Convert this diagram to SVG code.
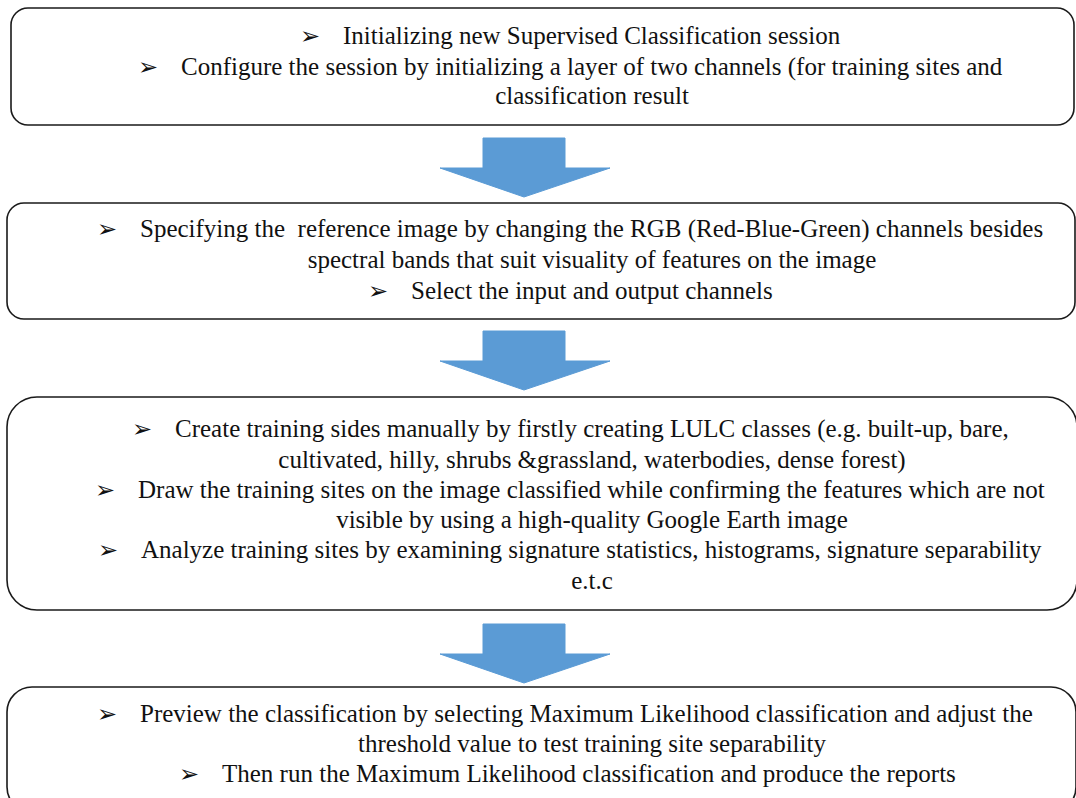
<svg xmlns="http://www.w3.org/2000/svg" width="1076" height="798" viewBox="0 0 1076 798">
<style>
.box{fill:#ffffff;stroke:#1a1a1a;stroke-width:1.6}
.t{font-family:'Liberation Serif','Times New Roman','DejaVu Serif',serif;font-size:25px;fill:#111111}
.c{text-anchor:middle}
.b{font-family:'DejaVu Sans',sans-serif;font-size:24px;fill:#111111}
.arr{fill:#5B9BD5;stroke:#5B9BD5;stroke-width:1}
</style>
<rect x="0" y="0" width="1076" height="798" fill="#ffffff"/>
<g id="connectors">
<path class="arr" d="M483,138 H565 V168 H610 L524,197 L440,168 H483 Z"/>
<path class="arr" d="M483,331 H565 V361 H610 L524,390 L440,361 H483 Z"/>
<path class="arr" d="M483,624 H565 V654 H610 L524,683 L440,654 H483 Z"/>
</g>
<g id="node1">
<rect class="box" x="11" y="8" width="1063" height="117" rx="17" ry="17"/>
<text class="b" x="300" y="44">➢</text>
<text class="t" x="343" y="44" font-family="Liberation Serif, serif">Initializing new Supervised Classification session</text>
<text class="b" x="138" y="75">➢</text>
<text class="t" x="181" y="75" font-family="Liberation Serif, serif">Configure the session by initializing a layer of two channels (for training sites and</text>
<text class="t c" x="592" y="104" font-family="Liberation Serif, serif">classification result</text>
</g>
<g id="node2">
<rect class="box" x="7" y="203" width="1068" height="116" rx="17" ry="17"/>
<text class="b" x="97" y="237">➢</text>
<text class="t" x="140" y="237" xml:space="preserve" font-family="Liberation Serif, serif">Specifying the  reference image by changing the RGB (Red-Blue-Green) channels besides</text>
<text class="t c" x="592" y="268" font-family="Liberation Serif, serif">spectral bands that suit visuality of features on the image</text>
<text class="b" x="368" y="299">➢</text>
<text class="t" x="411" y="299" font-family="Liberation Serif, serif">Select the input and output channels</text>
</g>
<g id="node3">
<rect class="box" x="7" y="397" width="1070" height="213" rx="30" ry="30"/>
<text class="b" x="132" y="437">➢</text>
<text class="t" x="175" y="437" font-family="Liberation Serif, serif">Create training sides manually by firstly creating LULC classes (e.g. built-up, bare,</text>
<text class="t c" x="592" y="468" font-family="Liberation Serif, serif">cultivated, hilly, shrubs &amp;grassland, waterbodies, dense forest)</text>
<text class="b" x="95" y="498">➢</text>
<text class="t" x="138" y="498" font-family="Liberation Serif, serif">Draw the training sites on the image classified while confirming the features which are not</text>
<text class="t c" x="592" y="528" font-family="Liberation Serif, serif">visible by using a high-quality Google Earth image</text>
<text class="b" x="98" y="558">➢</text>
<text class="t" x="141" y="558" font-family="Liberation Serif, serif">Analyze training sites by examining signature statistics, histograms, signature separability</text>
<text class="t c" x="592" y="589" font-family="Liberation Serif, serif">e.t.c</text>
</g>
<g id="node4">
<rect class="box" x="7" y="687" width="1069" height="125" rx="25" ry="25"/>
<text class="b" x="97" y="722">➢</text>
<text class="t" x="140" y="722" font-family="Liberation Serif, serif">Preview the classification by selecting Maximum Likelihood classification and adjust the</text>
<text class="t c" x="592" y="752" font-family="Liberation Serif, serif">threshold value to test training site separability</text>
<text class="b" x="179" y="782">➢</text>
<text class="t" x="222" y="782" font-family="Liberation Serif, serif">Then run the Maximum Likelihood classification and produce the reports</text>
</g>
</svg>
